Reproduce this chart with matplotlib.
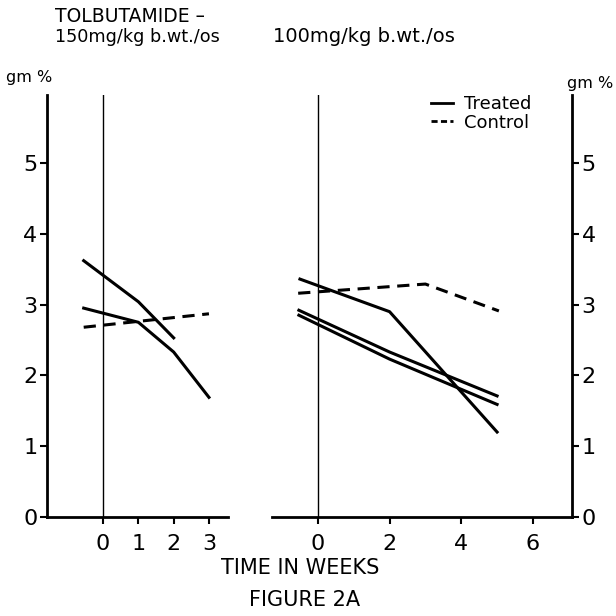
import matplotlib.pyplot as plt
from matplotlib.lines import Line2D

plt.rcParams['font.family'] = ['DejaVu Sans']

# left panel: 150 mg/kg
left_ticks = [0, 1, 2, 3]
left_treated_a_x = [-0.55, 1, 2]
left_treated_a_y = [3.62, 3.04, 2.53]
left_treated_b_x = [-0.55, 1, 2, 3]
left_treated_b_y = [2.95, 2.75, 2.33, 1.69]
left_control_x = [-0.55, 3]
left_control_y = [2.68, 2.87]

# right panel: 100 mg/kg
right_ticks = [0, 2, 4, 6]
right_treated_c_x = [-0.5, 2, 5]
right_treated_c_y = [3.36, 2.9, 1.2]
right_treated_d_x = [-0.53, 2, 5]
right_treated_d_y = [2.92, 2.33, 1.71]
right_treated_e_x = [-0.53, 2, 5]
right_treated_e_y = [2.85, 2.23, 1.59]
right_control_x = [-0.55, 3, 5.05]
right_control_y = [3.16, 3.29, 2.91]

y_ticks = [0, 1, 2, 3, 4, 5]

fig = plt.figure(figsize=(6.16, 6.16), dpi=100)
ax1 = fig.add_axes([47 / 616, 99 / 616, 181 / 616, 422 / 616])
ax2 = fig.add_axes([272 / 616, 99 / 616, 300 / 616, 422 / 616])

lw = 2.2
for ax in (ax1, ax2):
    ax.set_ylim(0, 5.96)
    ax.axvline(0, color='black', lw=1.0)
    for s in ax.spines.values():
        s.set_linewidth(2.0)
    ax.spines['top'].set_visible(False)
    ax.tick_params(direction='out', length=5, width=1.5, labelsize=16)
    ax.tick_params(axis='x', pad=7)
    ax.tick_params(axis='y', pad=2)

ax1.set_xlim(-1.59, 3.54)
ax1.spines['right'].set_visible(False)
ax1.set_xticks(left_ticks)
ax1.set_yticks(y_ticks)
ax1.plot(left_treated_a_x, left_treated_a_y, color='black', lw=lw)
ax1.plot(left_treated_b_x, left_treated_b_y, color='black', lw=lw)
ax1.plot(left_control_x, left_control_y, color='black', lw=lw, ls=(0, (4, 2.5)))

ax2.set_xlim(-1.28, 7.09)
ax2.spines['left'].set_visible(False)
ax2.set_xticks(right_ticks)
ax2.yaxis.tick_right()
ax2.set_yticks(y_ticks)
ax2.plot(right_treated_c_x, right_treated_c_y, color='black', lw=lw)
ax2.plot(right_treated_d_x, right_treated_d_y, color='black', lw=lw)
ax2.plot(right_treated_e_x, right_treated_e_y, color='black', lw=lw)
ax2.plot(right_control_x, right_control_y, color='black', lw=lw, ls=(0, (4, 2.5)))

handles = [Line2D([], [], color='black', lw=2),
           Line2D([], [], color='black', lw=2, ls=(0, (2.2, 1.2)))]
fig.legend(handles, ['Treated', 'Control'], loc='upper left',
           bbox_to_anchor=(424 / 616, 1 - 88 / 616), frameon=False,
           handlelength=1.2, handletextpad=0.6, labelspacing=0.02,
           fontsize=13, borderaxespad=0)

fig.text(55 / 616, 1 - 22 / 616, 'TOLBUTAMIDE –', fontsize=13.5, ha='left')
fig.text(55 / 616, 1 - 42 / 616, '150mg/kg b.wt./os', fontsize=12.7, ha='left')
fig.text(273 / 616, 1 - 42 / 616, '100mg/kg b.wt./os', fontsize=14, ha='left')
fig.text(29 / 616, 1 - 82 / 616, 'gm %', fontsize=11.5, ha='center')
fig.text(590 / 616, 1 - 88 / 616, 'gm %', fontsize=11.5, ha='center')
fig.text(300 / 616, 1 - 574 / 616, 'TIME IN WEEKS', fontsize=15, ha='center')
fig.text(305 / 616, 1 - 606 / 616, 'FIGURE 2A', fontsize=15, ha='center')

fig.savefig('out.png', dpi=100)
